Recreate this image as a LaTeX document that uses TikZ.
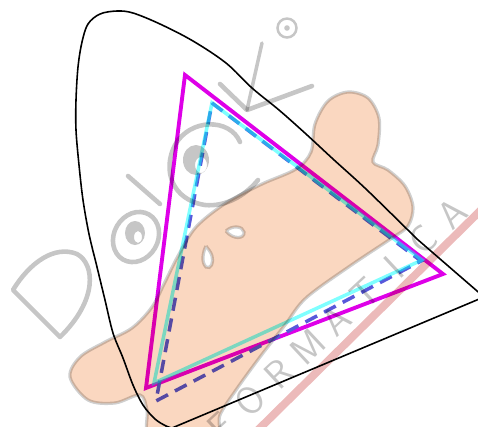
\documentclass[tikz,border=0pt]{standalone}
\usepackage{fontspec}
\definecolor{gmag}{RGB}{222,0,232}
\definecolor{gcyan}{RGB}{0,255,255}
\definecolor{gblue}{RGB}{88,88,218}
\definecolor{peach}{RGB}{250,215,192}
\definecolor{wmgray}{RGB}{198,198,198}
\definecolor{wmedge}{RGB}{208,208,208}
\definecolor{wmred}{RGB}{236,186,186}
\begin{document}
\begin{tikzpicture}[x=0.02cm, y=-0.02cm,
  locus/.style={draw=black, line width=0.9pt, line join=round},
  widegamut/.style={draw=gmag, line width=2.2pt, line join=miter},
  stdgamut/.style={draw=gcyan, draw opacity=0.5, line width=2pt, line join=miter},
  dashgamut/.style={draw=gblue, line width=2pt, dash pattern=on 7.5pt off 4.5pt},
  wmstroke/.style={draw=wmgray, line width=2.6pt, line cap=round, line join=round},
  wmletter/.style={text=wmgray, font=\sffamily\fontsize{22}{22}\selectfont, rotate=43, inner sep=0pt},
]
\useasboundingbox (0,0) rectangle (478,427);
\clip (0,0) rectangle (478,427);

% spectral locus
\draw[locus] (172,428) -- (484,297) -- plot[smooth, tension=0.55] coordinates {
  (417,239) (367,190) (333,159) (306,134) (279,110) (252,88) (226,63)
  (193,41) (160,24) (133,13) (117,11) (100,14) (88,24) (82,42) (78,67)
  (76,100) (76,130) (79,165) (83,200) (89,234) (97,267) (105,300)
  (113,333) (123,358) (133,385) (143,405) (155,419) (166,426) (172,428)};

% primaries of the three gamuts
\coordinate (wR) at (443,274);
\coordinate (wG) at (185,75);
\coordinate (wB) at (146,388);
\coordinate (dR) at (421,261);
\coordinate (dG) at (212,103);
\coordinate (dB) at (156,401);
\coordinate (sR) at (422,260);
\coordinate (sG) at (212,103);
\coordinate (sB) at (154,383);

\draw[widegamut] (wG) -- (wR) -- (wB) -- cycle;
\draw[dashgamut] (dG) -- (dR) -- (dB) -- cycle;
\draw[stdgamut] (sG) -- (sR) -- (sB) -- cycle;

% logo mark laid over the chart
\begin{scope}[blend mode=multiply]
  \draw[wmred, line width=4.5pt] (258,430) -- (481,210);

  \path[fill=peach, draw=wmedge, line width=1.8pt, even odd rule]
    plot[smooth cycle, tension=0.55] coordinates {
      (70,377) (80,357) (105,342) (132,328) (152,307) (165,282) (178,256)
      (196,227) (226,203) (262,184) (296,169) (311,152) (315,124) (328,101)
      (348,92) (368,98) (379,118) (378,145) (373,162) (388,170) (405,186)
      (413,207) (408,226) (392,238) (350,266) (306,298) (285,325) (260,357)
      (236,390) (220,415) (214,440) (152,440) (147,410) (140,395) (115,403)
      (88,400)}
    (226,231) .. controls (232,225) and (243,226) .. (244,232)
              .. controls (245,239) and (233,240) .. (226,231)
    (206,246) .. controls (203,252) and (201,262) .. (206,267)
              .. controls (211,270) and (214,262) .. (212,256)
              .. controls (211,252) and (208,249) .. (206,246);

  % letter D
  \draw[wmstroke] (60,337) -- (13,290)
    .. controls (30,262) and (55,245) .. (77,254)
    .. controls (95,264) and (98,300) .. (60,337);
  % small letter with eye
  \draw[wmstroke] (128,176) -- (160,204);
  \draw[wmstroke, rotate around={-30:(136,237)}] (136,237) ellipse [x radius=22, y radius=26];
  \fill[wmgray, even odd rule] (135,233) ellipse [x radius=10, y radius=12]
                               (138,237) ellipse [x radius=4, y radius=6];
  % larger letter with eye
  \draw[wmstroke] (240,142) .. controls (230,118) and (190,118) .. (175,145)
    .. controls (162,170) and (172,200) .. (205,205)
    .. controls (225,207) and (245,196) .. (258,180);
  \fill[wmgray, even odd rule] (196,160) ellipse [x radius=13, y radius=15]
                               (201,165) ellipse [x radius=6, y radius=8];
  % letter K
  \draw[wmstroke, line width=2pt] (262,43) -- (247,110);
  \draw[wmstroke] (220,84) -- (247,110) -- (312,86);
  % registered mark
  \draw[wmgray, line width=1.4pt] (287,28) circle [radius=9.5];
  \fill[wmgray] (287,28) circle [radius=2.8];

  % lettering along the diagonal
  \foreach \ch [count=\i from 0] in {F,O,R,M,A,T,I,C,A}
    \node[wmletter] (fm\i) at ({221+28.9*\i},{427-26.7*\i}) {\ch};
\end{scope}
\end{tikzpicture}
\end{document}
